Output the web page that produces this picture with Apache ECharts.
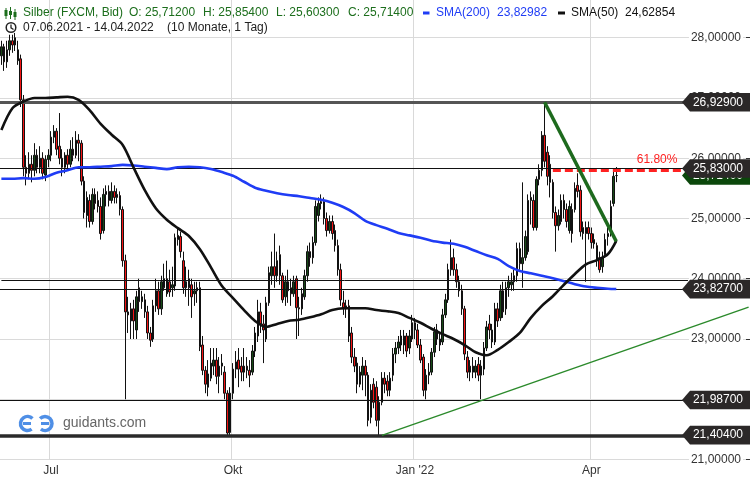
<!DOCTYPE html>
<html><head><meta charset="utf-8">
<script src="https://cdn.jsdelivr.net/npm/echarts@6.0.0/dist/echarts.min.js"></script>
<style>html,body{margin:0;padding:0;background:#fff}#c{width:750px;height:480px}</style>
</head><body><div id="c"></div>
<script>
// ---------- data ----------
const firstDay = [2021, 5, 7];          // 07.06.2021 (weekday trading days)
const totalSlots = 272;                 // trading-day slots incl. empty future space
const tickLabels = [['2021-07-01','Jul'],['2021-10-01','Okt'],['2022-01-03',"Jan '22"],['2022-04-01','Apr']];
// [open, close, low, high]
const ohlc = [
[27.70,27.85,27.55,27.95],[27.85,27.60,27.45,27.90],[27.60,27.80,27.50,27.95],[27.80,27.95,27.70,28.05],[27.95,27.88,27.75,28.05],
[27.88,28.00,27.78,28.08],[27.62,27.80,27.55,27.95],[27.65,26.97,26.85,27.72],[26.97,25.85,25.70,27.05],[25.85,25.75,25.55,26.05],
[25.75,25.90,25.65,26.10],[25.90,25.80,25.60,26.05],[25.80,26.05,25.70,26.25],[26.05,25.85,25.75,26.15],[25.85,26.00,25.75,26.20],
[26.00,25.75,25.65,26.10],[25.72,25.98,25.62,26.05],[25.98,26.05,25.85,26.15],[26.05,26.35,25.95,26.45],[26.35,26.45,26.25,26.55],
[26.45,26.15,26.05,26.50],[26.20,26.00,25.90,26.75],[26.00,25.85,25.70,26.15],[25.85,26.05,25.75,26.10],[26.05,25.90,25.80,26.15],
[25.90,26.15,25.85,26.30],[26.15,26.05,25.95,26.35],[26.05,26.30,26.00,26.45],[26.30,26.25,25.95,26.40],[26.25,25.62,25.55,26.30],
[25.62,25.10,25.00,25.70],[25.05,25.35,24.85,25.45],[25.30,24.95,24.85,25.40],[24.95,25.40,24.90,25.50],[25.40,25.25,25.15,25.50],
[25.30,25.20,25.10,25.45],[25.20,24.75,24.65,25.35],[24.80,25.40,24.75,25.50],[25.40,25.45,25.20,25.55],[25.45,25.30,25.20,25.55],
[25.30,25.45,25.25,25.60],[25.45,25.35,25.25,25.55],[25.35,25.40,25.25,25.50],[25.38,25.15,25.05,25.45],[25.15,24.30,24.20,25.20],
[24.30,23.45,22.00,24.40],[23.45,23.40,23.10,23.70],[23.30,23.50,23.00,23.60],[23.50,23.30,23.00,23.65],[23.15,23.70,23.00,23.80],
[23.85,23.62,23.45,24.00],[23.62,23.70,23.50,23.80],[23.65,23.45,23.35,23.75],[23.45,23.10,23.00,23.55],[23.10,22.98,22.87,23.20],
[23.00,23.55,22.95,23.65],[23.55,23.80,23.45,24.00],[23.80,23.50,23.40,23.95],[23.50,23.95,23.40,24.05],[23.85,24.00,23.80,24.25],
[24.00,23.75,23.70,24.30],[23.95,23.78,23.70,24.15],[23.85,23.90,23.70,24.20],[23.88,24.68,23.80,24.75],[24.65,24.72,24.55,24.85],
[24.70,24.45,24.35,24.78],[24.30,23.85,23.75,24.45],[23.85,23.95,23.70,24.20],[24.00,23.85,23.55,24.15],[23.90,23.70,23.35,24.00],
[23.75,23.80,23.55,23.95],[23.80,23.85,23.60,23.95],[23.85,22.87,22.80,23.95],[22.90,22.48,22.40,23.05],[22.48,22.25,22.10,22.55],
[22.20,22.42,22.05,22.65],[22.35,22.60,22.30,22.85],[22.55,22.65,22.40,22.85],[22.65,22.38,22.25,22.85],[22.38,22.55,22.10,22.70],
[22.55,22.60,22.40,22.75],[22.45,22.10,22.00,22.55],[22.10,21.44,21.40,22.15],[21.45,22.10,21.40,22.20],[22.10,22.50,22.00,22.60],
[22.50,22.62,22.35,22.80],[22.65,22.50,22.20,22.85],[22.55,22.45,22.30,22.70],[22.45,22.55,22.30,22.85],[22.55,22.48,22.35,22.70],
[22.48,22.40,22.20,22.65],[22.45,22.80,22.40,22.90],[22.80,23.10,22.70,23.20],[23.05,23.45,22.95,23.65],[23.45,23.25,23.10,23.60],
[23.25,23.15,22.60,23.40],[23.00,23.60,22.95,23.70],[23.60,24.10,23.55,24.20],[24.05,24.20,23.90,24.45],[24.20,24.05,23.85,24.75],
[24.05,24.30,23.95,24.45],[24.40,24.05,23.90,24.55],[24.05,23.65,23.60,24.10],[23.70,23.95,23.55,24.05],[23.95,23.80,23.60,24.15],
[23.85,23.75,23.55,24.00],[23.75,23.95,23.70,24.05],[24.00,23.52,23.00,24.05],[23.52,23.50,23.05,23.70],[23.50,23.75,23.40,23.85],
[23.70,24.05,23.65,24.15],[24.05,24.45,23.95,24.55],[24.45,24.35,24.20,24.60],[24.35,24.60,24.25,24.70],[24.60,25.20,24.55,25.30],
[25.05,25.25,24.95,25.35],[25.25,25.28,25.15,25.40],[25.28,25.00,24.90,25.35],[25.00,24.80,24.70,25.10],[24.80,24.95,24.75,25.05],
[24.95,24.75,24.65,25.05],[24.80,24.55,24.45,24.90],[24.55,24.15,24.05,24.65],[24.15,23.65,23.55,24.25],[23.60,23.50,23.40,23.80],
[23.55,23.50,23.35,23.65],[23.55,23.05,22.95,23.65],[23.10,22.70,22.60,23.20],[22.70,22.55,22.45,22.85],[22.60,22.25,22.10,22.70],
[22.25,22.45,22.20,22.55],[22.40,22.55,22.15,22.70],[22.55,22.40,22.05,22.65],[22.40,21.65,21.55,22.45],[21.70,22.15,21.60,22.25],
[22.25,21.95,21.85,22.35],[22.20,21.65,21.55,22.30],[21.65,21.95,21.40,22.05],[21.95,22.35,21.90,22.45],[22.35,22.25,22.10,22.45],
[22.30,22.15,22.05,22.40],[22.15,22.35,22.05,22.45],[22.40,22.75,22.30,22.85],[22.75,22.85,22.60,22.95],[22.85,22.95,22.75,23.05],
[23.05,22.90,22.80,23.15],[22.90,23.05,22.75,23.15],[23.05,22.80,22.70,23.10],[22.85,23.05,22.75,23.15],[23.00,23.27,22.95,23.40],
[23.27,23.15,23.00,23.35],[23.15,22.90,22.85,23.25],[22.90,22.65,22.60,23.00],[22.70,22.15,22.05,22.75],[22.15,22.40,22.00,22.50],
[22.40,22.45,22.25,22.60],[22.45,22.78,22.40,22.85],[22.78,23.12,22.70,23.20],[23.15,23.00,22.90,23.25],[23.00,22.90,22.80,23.10],
[22.95,23.40,22.90,23.50],[23.40,23.65,23.35,23.75],[23.65,24.15,23.60,24.25],[24.15,24.35,24.05,24.65],[24.35,24.15,24.05,24.50],
[24.15,23.95,23.85,24.25],[23.95,23.80,23.70,24.05],[23.80,23.50,23.40,23.90],[23.50,22.75,22.65,23.55],[22.70,22.45,22.35,22.80],
[22.45,22.55,22.30,22.65],[22.55,22.45,22.35,22.70],[22.45,22.55,22.35,22.65],[22.58,22.40,22.30,22.70],[22.40,22.55,22.00,22.65],
[22.50,22.85,22.40,22.95],[22.85,23.20,22.80,23.30],[23.25,23.15,23.00,23.40],[23.15,22.95,22.85,23.25],[22.95,23.50,22.90,23.60],
[23.50,23.30,23.20,23.60],[23.35,23.80,23.30,23.90],[23.80,23.45,23.35,23.95],[23.50,23.85,23.40,23.95],[23.85,23.95,23.70,24.05],
[23.90,23.95,23.80,24.10],[23.95,24.05,23.80,24.15],[24.05,24.50,23.95,24.60],[24.50,24.25,24.15,24.60],[24.25,24.35,23.85,25.60],
[24.35,24.70,24.30,24.80],[24.45,25.30,24.40,25.40],[25.30,25.35,24.90,25.45],[25.30,24.85,24.80,25.40],[24.85,25.65,24.80,25.70],
[25.65,25.80,25.55,25.90],[25.80,26.38,25.70,26.45],[26.38,25.95,25.85,26.93],[26.10,25.70,25.55,26.20],[25.90,25.60,25.35,26.05],
[25.60,25.10,25.00,25.65],[25.10,24.88,24.45,25.20],[24.88,25.05,24.80,25.15],[24.95,25.30,24.90,25.40],[25.30,25.15,25.00,25.40],
[25.15,24.95,24.85,25.25],[24.80,25.20,24.75,25.30],[25.15,24.75,24.60,25.25],[25.15,25.50,25.10,25.60],[25.55,25.45,25.35,25.75],
[25.47,24.78,24.70,25.55],[24.85,24.75,24.65,24.95],[24.75,24.85,23.95,24.95],[24.85,24.75,24.65,24.95],[24.75,24.60,24.50,24.85],
[24.58,24.65,24.50,24.75],[24.55,24.30,24.20,24.60],[24.35,24.15,24.10,24.45],[24.20,24.35,24.10,24.45],[24.40,24.65,24.35,24.75],
[24.70,24.75,24.55,24.85],[24.75,25.20,24.70,25.30],[25.25,25.70,25.20,25.78],[25.712,25.714,25.603,25.854]
];
// moving averages: [slot index, value]
const sma200 = [[0,25.66],[4,25.66],[8,25.67],[12,25.66],[16,25.69],[20,25.76],[24,25.80],[28,25.85],[32,25.85],[36,25.86],
[40,25.87],[44,25.89],[48,25.88],[52,25.86],[56,25.84],[60,25.82],[64,25.85],[68,25.86],[72,25.85],[76,25.82],[80,25.77],
[84,25.71],[88,25.61],[92,25.51],[96,25.46],[100,25.42],[104,25.39],[108,25.37],[112,25.34],[116,25.31],[120,25.26],[124,25.19],
[128,25.09],[132,24.96],[136,24.89],[140,24.83],[144,24.76],[148,24.72],[152,24.68],[156,24.63],[160,24.60],[164,24.58],
[168,24.53],[172,24.46],[176,24.39],[180,24.33],[184,24.21],[188,24.13],[192,24.09],[196,24.05],[200,24.01],[204,23.96],
[208,23.91],[212,23.87],[216,23.85],[220,23.835],[223,23.82982]];
const sma50 = [[0,26.47],[4,26.83],[8,26.94],[12,27.00],[16,27.00],[20,27.01],[24,27.02],[28,26.97],[32,26.80],[36,26.57],
[40,26.39],[44,26.22],[48,25.84],[52,25.47],[56,25.17],[60,24.98],[64,24.84],[68,24.71],[72,24.49],[76,24.19],[80,23.88],
[84,23.68],[88,23.48],[92,23.30],[96,23.20],[100,23.25],[104,23.30],[108,23.32],[112,23.36],[116,23.41],[120,23.48],[124,23.51],
[128,23.51],[132,23.51],[136,23.48],[140,23.46],[144,23.43],[148,23.35],[152,23.27],[156,23.17],[160,23.08],[164,23.00],
[168,22.90],[172,22.78],[176,22.73],[180,22.82],[184,22.95],[188,23.10],[192,23.35],[196,23.55],[200,23.71],[204,23.90],
[208,24.08],[212,24.24],[216,24.31],[220,24.41],[223,24.62854]];
const levels = [26.929, 25.83, 23.827, 21.987, 21.404];
const lastPrice = 25.714;
const supportLine = [[0, 23.97], [249, 23.97]];
const fibLine = [[200, 25.80], [247, 25.80]];
const fibText = '61.80%';
const trendDown = [[197, 26.93], [223, 24.62]];
const trendUp = [[138, 21.40], [271, 23.53]];

// ---------- build ----------
const FONT = '"Liberation Sans", Arial, sans-serif';
const categories = [];
{ let t = Date.UTC(firstDay[0], firstDay[1], firstDay[2]);
  while (categories.length < totalSlots) { const d = new Date(t); const wd = d.getUTCDay();
    if (wd !== 0 && wd !== 6) categories.push(d.toISOString().slice(0, 10)); t += 86400000; } }
const tickMap = {}; tickLabels.forEach(([d, l]) => tickMap[d] = l);
const fmt = v => v.toFixed(5).replace('.', ',');
const last = ohlc[ohlc.length - 1];
const dmy = s => s.slice(8, 10) + '.' + s.slice(5, 7) + '.' + s.slice(0, 4);

const GREEN = '#1c6e1c', BLUE = '#1f3cf5';
const hdr = (x, y, text, fill, size) => ({ type: 'text', x: x, y: y, z: 100, style: { text: text, fill: fill, font: (size || 12) + 'px ' + FONT, textVerticalAlign: 'middle', verticalAlign: 'middle' } });

const chart = echarts.init(document.getElementById('c'));
chart.setOption({
  animation: false,
  backgroundColor: '#fff',
  grid: { left: 0, right: 0, top: -10, bottom: 20.5, containLabel: false, outerBoundsMode: 'none' },
  xAxis: {
    type: 'category', data: categories, boundaryGap: true,
    axisLine: { show: false }, axisTick: { show: false },
    axisLabel: { interval: (i, v) => tickMap[v] !== undefined, formatter: v => tickMap[v] || '', margin: 5, color: '#333', fontSize: 12, fontFamily: FONT },
    splitLine: { show: true, interval: (i, v) => tickMap[v] !== undefined, lineStyle: { color: '#d9d9d9', width: 1 } }
  },
  yAxis: {
    type: 'value', position: 'right', min: 21, max: 28.7925, interval: 1, scale: true,
    axisLine: { show: false },
    axisTick: { show: true, inside: true, length: 4, lineStyle: { color: '#333' } },
    axisLabel: { inside: true, margin: 7, color: '#333', fontSize: 12, fontFamily: FONT, backgroundColor: '#fff', padding: [1, 2],
      formatter: v => Math.abs(v - Math.round(v)) < 1e-6 ? fmt(v) : '' },
    splitLine: { lineStyle: { color: '#dadada', width: 1 } }
  },
  series: [
    { type: 'candlestick', data: ohlc, barWidth: 2, z: 3,
      itemStyle: { color: '#174a17', color0: '#f41414', borderColor: '#111', borderColor0: '#111', borderWidth: 1 },
      markLine: { silent: true, symbol: 'none', animation: false, label: { show: false },
        data: [
          { yAxis: levels[0], lineStyle: { color: '#555', width: 3, type: 'solid' } },
          { yAxis: levels[1], lineStyle: { color: '#111', width: 1, type: 'solid' } },
          { yAxis: levels[2], lineStyle: { color: '#111', width: 1, type: 'solid' } },
          { yAxis: levels[3], lineStyle: { color: '#111', width: 1, type: 'solid' } },
          { yAxis: levels[4], lineStyle: { color: '#2a2a2a', width: 3.5, type: 'solid' } },
          [{ coord: supportLine[0], lineStyle: { color: '#111', width: 1, type: 'solid' } }, { coord: supportLine[1] }],
          [{ coord: fibLine[0], lineStyle: { color: '#ff2222', width: 3, type: [8, 4] },
             label: { show: true, formatter: fibText, position: 'insideEndTop', color: '#ff2020', fontSize: 12, fontFamily: FONT, distance: 5 } },
           { coord: fibLine[1] }]
        ] } },
    { type: 'line', data: sma200, smooth: 0.3, connectNulls: true, symbol: 'none', z: 5, lineStyle: { color: BLUE, width: 2.6 } },
    { type: 'line', data: sma50, smooth: 0.3, connectNulls: true, symbol: 'none', z: 5, lineStyle: { color: '#111', width: 2.6 } },
    { type: 'line', data: trendDown, symbol: 'none', z: 6, lineStyle: { color: '#1d6a1d', width: 3.5 } },
    { type: 'line', data: trendUp, symbol: 'none', z: 6, lineStyle: { color: '#2b8a2b', width: 1.4 } },
    { type: 'custom', z: 10, clip: false,
      data: [[223, lastPrice, 1]].concat(levels.map(v => [223, v, 0])),
      encode: { x: 0, y: 1 },
      renderItem: function (params, api) {
        const y = api.coord([api.value(0), api.value(1)])[1];
        const W = api.getWidth(), h = 9.3;
        const col = api.value(2) === 1 ? '#0b470b' : '#2b2828';
        return { type: 'group', children: [
          { type: 'polygon', shape: { points: [[W - 68, y], [W - 60, y - h], [W, y - h], [W, y + h], [W - 60, y + h]] }, style: { fill: col } },
          { type: 'text', style: { text: fmt(api.value(1)), x: W - 7, y: y, textAlign: 'right', align: 'right', textVerticalAlign: 'middle', verticalAlign: 'middle', fill: '#fff', font: '12px ' + FONT } }
        ] };
      } }
  ],
  graphic: [
    // candle icon
    { type: 'line', z: 100, shape: { x1: 6, y1: 8, x2: 6, y2: 19 }, style: { stroke: GREEN, lineWidth: 1 } },
    { type: 'rect', z: 100, shape: { x: 4.5, y: 10, width: 3, height: 6 }, style: { fill: GREEN } },
    { type: 'line', z: 100, shape: { x1: 10.5, y1: 7, x2: 10.5, y2: 19 }, style: { stroke: GREEN, lineWidth: 1 } },
    { type: 'rect', z: 100, shape: { x: 9, y: 11, width: 3, height: 4 }, style: { fill: GREEN } },
    { type: 'line', z: 100, shape: { x1: 15, y1: 9, x2: 15, y2: 20 }, style: { stroke: GREEN, lineWidth: 1 } },
    { type: 'rect', z: 100, shape: { x: 13.5, y: 12, width: 3, height: 5 }, style: { fill: GREEN } },
    hdr(23, 13, 'Silber (FXCM, Bid)', GREEN),
    hdr(129, 13, 'O: ' + fmt(last[0]), GREEN),
    hdr(203, 13, 'H: ' + fmt(last[3]), GREEN),
    hdr(276, 13, 'L: ' + fmt(last[2]), GREEN),
    hdr(348, 13, 'C: ' + fmt(last[1]), GREEN),
    { type: 'rect', z: 100, shape: { x: 423, y: 11.5, width: 6.5, height: 3 }, style: { fill: BLUE } },
    hdr(436, 13, 'SMA(200)', BLUE),
    hdr(497, 13, fmt(sma200[sma200.length - 1][1]), BLUE),
    { type: 'rect', z: 100, shape: { x: 558, y: 11.5, width: 7, height: 3 }, style: { fill: '#111' } },
    hdr(571, 13, 'SMA(50)', '#111'),
    hdr(625, 13, fmt(sma50[sma50.length - 1][1]), '#111'),
    // clock icon
    { type: 'circle', z: 100, shape: { cx: 11, cy: 27.5, r: 4.8 }, style: { fill: 'none', stroke: '#222', lineWidth: 1.5 } },
    { type: 'polyline', z: 100, shape: { points: [[11, 24.5], [11, 27.8], [13.5, 29.5]] }, style: { fill: 'none', stroke: '#222', lineWidth: 1.3 } },
    hdr(23, 27.5, dmy(categories[0]) + ' - ' + dmy(categories[ohlc.length - 1]), '#222'),
    hdr(167, 27.5, '(10 Monate, 1 Tag)', '#222'),
    // watermark
    { type: 'arc', z: 1, shape: { cx: 27.5, cy: 423.5, r: 7, startAngle: Math.PI * 0.3, endAngle: Math.PI * 1.75, clockwise: true }, style: { fill: 'none', stroke: '#4f8fe6', lineWidth: 3.5 } },
    { type: 'rect', z: 1, shape: { x: 23, y: 422, width: 8, height: 3 }, style: { fill: '#4f8fe6' } },
    { type: 'arc', z: 1, shape: { cx: 45, cy: 423.5, r: 7, startAngle: Math.PI * 1.25, endAngle: Math.PI * 2.7, clockwise: true }, style: { fill: 'none', stroke: '#4f8fe6', lineWidth: 3.5 } },
    { type: 'rect', z: 1, shape: { x: 41, y: 422, width: 8, height: 3 }, style: { fill: '#4f8fe6' } },
    { type: 'text', z: 1, x: 63, y: 423.5, style: { text: 'guidants.com', fill: '#666', font: '14px ' + FONT, textVerticalAlign: 'middle', verticalAlign: 'middle' } }
  ]
});
</script></body></html>
